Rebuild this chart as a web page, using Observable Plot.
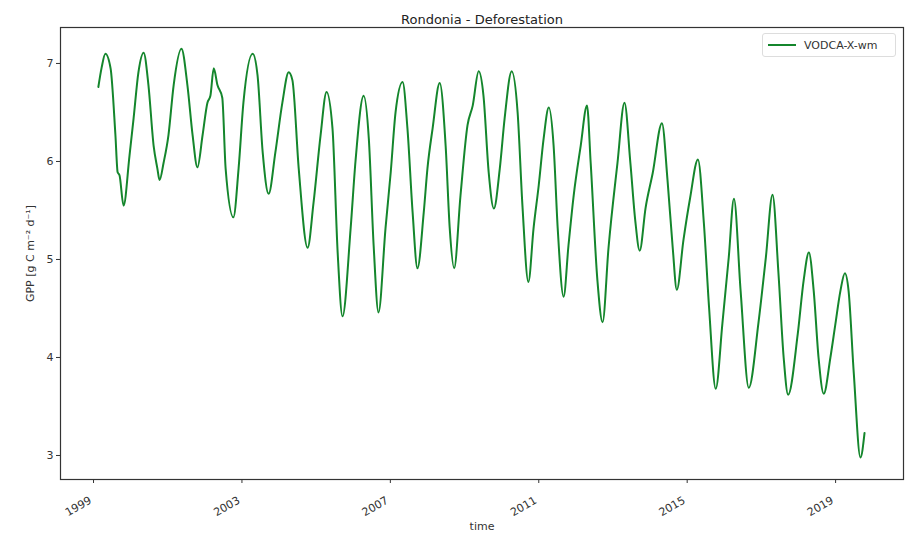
<!DOCTYPE html>
<html>
<head>
<meta charset="utf-8">
<script src="https://cdn.jsdelivr.net/npm/d3@7"></script>
<script src="https://cdn.jsdelivr.net/npm/@observablehq/plot@0.6"></script>
<style>
  html, body { margin: 0; padding: 0; background: #fff; }
  #wrap { position: relative; width: 915px; height: 538px; font-family: "DejaVu Sans", sans-serif; }
  #legend { position: absolute; left: 762px; top: 33px; width: 134px; height: 24px; box-sizing: border-box;
    border: 1px solid #ddd; border-radius: 3px; background: rgba(255,255,255,0.85);
    display: flex; align-items: center; font-size: 11px; color: #333; }
  #legend .sw { width: 28px; height: 0; border-top: 2px solid #14862c; margin: 0 8px 0 5px; }
</style>
</head>
<body>
<div id="wrap"></div>
<script>
const title = "Rondonia - Deforestation";
const seriesName = "VODCA-X-wm";
const xLabel = "time";
const yLabel = "GPP [g C m\u207B\u00B2 d\u207B\u00B9]";
const xTicks = [1999, 2003, 2007, 2011, 2015, 2019];
const yTicks = [3, 4, 5, 6, 7];

// decimal years
const times = [
  1999.13, 1999.22, 1999.32, 1999.46, 1999.59, 1999.65, 1999.70, 1999.81, 1999.97,
  2000.08, 2000.21, 2000.35, 2000.48, 2000.62, 2000.72, 2000.78, 2000.89,
  2001.02, 2001.16, 2001.37, 2001.53, 2001.67, 2001.80, 2001.94,
  2002.07, 2002.15, 2002.24, 2002.34, 2002.47, 2002.56, 2002.77, 2002.91,
  2003.04, 2003.29, 2003.42, 2003.56, 2003.72, 2003.90,
  2004.09, 2004.26, 2004.36, 2004.53, 2004.77, 2004.93,
  2005.12, 2005.28, 2005.44, 2005.58, 2005.71, 2005.93,
  2006.06, 2006.28, 2006.42, 2006.55, 2006.68, 2006.87,
  2007.01, 2007.14, 2007.33, 2007.46, 2007.60, 2007.73, 2007.90,
  2008.00, 2008.14, 2008.33, 2008.49, 2008.60, 2008.72, 2008.89,
  2009.08, 2009.22, 2009.38, 2009.51, 2009.65, 2009.79, 2009.95,
  2010.08, 2010.27, 2010.43, 2010.56, 2010.72, 2010.86,
  2011.00, 2011.13, 2011.27, 2011.40, 2011.51, 2011.67, 2011.80, 2011.94,
  2012.13, 2012.30, 2012.40, 2012.58, 2012.72, 2012.88,
  2013.12, 2013.31, 2013.47, 2013.60, 2013.72, 2013.88,
  2014.07, 2014.32, 2014.47, 2014.61, 2014.72, 2014.90,
  2015.08, 2015.29, 2015.45, 2015.59, 2015.77, 2015.95,
  2016.12, 2016.26, 2016.44, 2016.66, 2016.92,
  2017.12, 2017.30, 2017.46, 2017.60, 2017.72, 2017.98,
  2018.14, 2018.28, 2018.41, 2018.54, 2018.68, 2018.86, 2018.99,
  2019.13, 2019.25, 2019.35, 2019.49, 2019.67, 2019.78
];
const gpp = [
  6.76, 6.96, 7.10, 6.95, 6.27, 5.89, 5.86, 5.55, 6.06,
  6.44, 6.91, 7.11, 6.78, 6.16, 5.93, 5.81, 5.99,
  6.27, 6.78, 7.15, 6.78, 6.27, 5.94, 6.27,
  6.60, 6.67, 6.95, 6.78, 6.65, 5.93, 5.43, 5.93,
  6.60, 7.10, 6.88, 6.09, 5.67, 6.09,
  6.60, 6.91, 6.83, 5.93, 5.12, 5.58,
  6.27, 6.71, 6.34, 5.07, 4.42, 5.32,
  6.00, 6.67, 6.23, 5.14, 4.46, 5.32,
  5.89, 6.50, 6.81, 6.34, 5.48, 4.91, 5.48,
  5.93, 6.34, 6.80, 6.16, 5.32, 4.91, 5.65,
  6.37, 6.57, 6.92, 6.67, 5.89, 5.52, 5.93,
  6.44, 6.92, 6.50, 5.55, 4.77, 5.32,
  5.76, 6.23, 6.55, 6.16, 5.32, 4.62, 5.14, 5.65,
  6.16, 6.57, 5.98, 4.79, 4.36, 5.12,
  5.98, 6.60, 5.98, 5.40, 5.09, 5.53,
  5.88, 6.39, 5.81, 5.12, 4.69, 5.20,
  5.63, 6.02, 5.37, 4.51, 3.68, 4.35,
  5.02, 5.62, 4.68, 3.69, 4.35,
  5.02, 5.66, 4.86, 4.00, 3.62, 4.24,
  4.79, 5.07, 4.68, 4.00, 3.63, 4.00, 4.33,
  4.68, 4.86, 4.68, 3.84, 2.98, 3.23
];

const data = times.map((t, i) => ({t, v: gpp[i]}));

const chart = Plot.plot({
  width: 915,
  height: 538,
  marginTop: 27,
  marginBottom: 59,
  marginLeft: 60,
  marginRight: 12,
  style: {fontFamily: "DejaVu Sans, sans-serif", fontSize: "11px", color: "#333", background: "#fff", overflow: "visible"},
  x: {type: "linear", domain: [1998.11, 2020.83]},
  y: {type: "linear", domain: [2.755, 7.367]},
  marks: [
    Plot.line(data, {x: "t", y: "v", stroke: "#14862c", strokeWidth: 2, curve: "monotone-x"}),
    Plot.frame({stroke: "#333", strokeWidth: 1.2}),
    Plot.axisX({ticks: xTicks, tickSize: 4, tickFormat: () => "", label: xLabel, labelAnchor: "center",
      labelArrow: "none", labelOffset: 50}),
    Plot.axisX({ticks: xTicks, tickFormat: d => String(d), tickSize: 0, tickPadding: 3, tickRotate: -30,
      dy: 17, dx: -3, label: null}),
    Plot.axisY({ticks: yTicks, tickFormat: d => String(d), tickSize: 4, tickPadding: 3,
      label: yLabel, labelAnchor: "center", labelArrow: "none", labelOffset: 34}),
    Plot.text([title], {frameAnchor: "top", dy: -13, fontSize: 13, fill: "#222"})
  ]
});

const wrap = document.getElementById("wrap");
wrap.appendChild(chart);
const legend = document.createElement("div");
legend.id = "legend";
legend.innerHTML = '<span class="sw"></span><span>' + seriesName + '</span>';
wrap.appendChild(legend);
</script>
</body>
</html>
